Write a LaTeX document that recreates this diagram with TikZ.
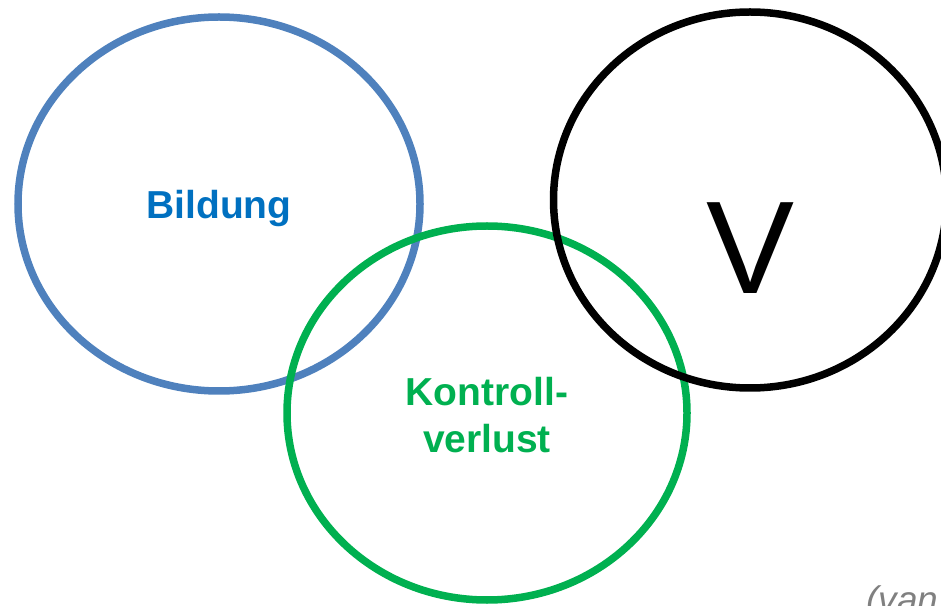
\documentclass[tikz,border=0pt]{standalone}
\usepackage{fontspec}
\setmainfont{Liberation Sans}
\usetikzlibrary{shapes.geometric}
\definecolor{ringblue}{HTML}{4F81BD}
\definecolor{textblue}{HTML}{0070C0}
\definecolor{ringgreen}{HTML}{00B050}
\definecolor{notegray}{HTML}{808080}

\begin{document}
\begin{tikzpicture}[x=1pt, y=1pt]
\tikzset{ring/.style={draw, ellipse, line width=7.5pt, inner sep=0pt},
  ringlabel/.style={font=\bfseries\fontsize{39}{47}\selectfont, align=center}}
\useasboundingbox (0, 0) rectangle (941, 605);
\node[ring, ringblue, minimum width=402pt, minimum height=374pt] (Bildung) at (219, 401) {};
\node[ring, ringgreen, minimum width=400pt, minimum height=374pt] (Kontrolle) at (487, 192) {};
\node[ring, black, minimum width=393pt, minimum height=376pt] (Vring) at (750, 405) {};
\node[ringlabel, textblue] (TBildung) at (219, 396) {Bildung};
\node[ringlabel, ringgreen] (TKontrolle) at (487, 190) {Kontroll-\\verlust};
\node[font=\fontsize{132}{140}\selectfont, inner sep=0pt] (TV) at (751, 357) {V};
\node[font=\itshape\fontsize{37}{44}\selectfont, notegray, anchor=base west, inner sep=0pt] (Quelle) at (866, -7) {(van};
\end{tikzpicture}
\end{document}
